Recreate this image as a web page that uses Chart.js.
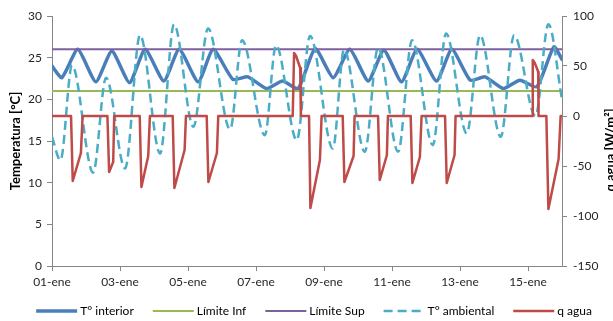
<!DOCTYPE html>
<html>
<head>
<meta charset="utf-8">
<script src="https://cdn.jsdelivr.net/npm/chart.js@4.4.1/dist/chart.umd.min.js"></script>
<style>
  html, body { margin: 0; padding: 0; background: #fff; overflow: hidden; }
  #wrap { width: 613px; height: 321px; position: relative; }
</style>
</head>
<body>
<div id="wrap"><canvas id="c" width="613" height="321"></canvas></div>
<script>
// Day axis: tick positions (days after 01-ene 00:00) and their labels
const dayTicks = [0, 2, 4, 6, 8, 10, 12, 14];
const dayLabels = ['01-ene', '03-ene', '05-ene', '07-ene', '09-ene', '11-ene', '13-ene', '15-ene'];

// Indoor temperature [°C]
const interiorTime = [0, 0.29, 0.76, 1.29, 1.76, 2.28, 2.74, 3.29, 3.74, 4.3, 4.74, 5.32, 5.76, 6.31, 6.78, 7.24,
  7.74, 8.27, 8.76, 9.3, 9.76, 10.28, 10.74, 11.31, 11.76, 12.3, 12.74, 13.27, 13.76, 14.26, 14.76, 15];
const interiorTemp = [24.0, 22.6, 26.0, 22.1, 25.8, 22.0, 26.0, 22.2, 26.0, 22.1, 26.0, 22.4, 22.7, 21.3, 22.2, 21.3,
  26.1, 22.6, 26.0, 22.2, 25.9, 22.1, 26.0, 22.2, 26.0, 22.3, 22.7, 21.3, 22.3, 21.5, 26.3, 24.8];

// Comfort band [°C]
const limitTime = [0, 15];
const limitInf = [21, 21];
const limitSup = [26, 26];

// Outdoor temperature [°C]
const ambientTime = [0, 0.25, 0.59, 1.21, 1.59, 2.15, 2.59, 3.18, 3.59, 4.16, 4.59, 5.24, 5.59, 6.26, 6.59, 7.2,
  7.59, 8.26, 8.59, 9.2, 9.59, 10.18, 10.59, 11.2, 11.59, 12.2, 12.59, 13.2, 13.59, 14.22, 14.6, 15];
const ambientTemp = [15.5, 12.7, 24.1, 11.2, 22.6, 11.7, 27.7, 13.5, 29.0, 16.7, 28.5, 16.4, 27.1, 15.7, 26.5, 15.1,
  27.6, 14.1, 26.0, 13.7, 26.2, 13.7, 27.1, 14.5, 27.9, 15.9, 27.7, 15.5, 27.7, 18.0, 29.0, 20.0];

// Heat flux through the water circuit [W/m²]
const waterTime = [0, 0.56, 0.61, 0.85, 0.9,
  1.63, 1.68, 1.80, 1.83,
  2.58, 2.63, 2.83, 2.88,
  3.55, 3.6, 3.9, 3.94,
  4.55, 4.6, 4.85, 4.89,
  7.08, 7.12, 7.18, 7.25, 7.3, 7.32,
  7.56, 7.6, 7.88, 7.93,
  8.55, 8.6, 8.87, 8.9,
  9.59, 9.64, 9.85, 9.88,
  10.55, 10.6, 10.82, 10.87,
  11.56, 11.61, 11.84, 11.87,
  14.12, 14.14, 14.2, 14.27, 14.3, 14.31,
  14.54, 14.6, 14.9, 14.96, 15];
const waterFlux = [0, 0, -65, -37, 0,
  0, -56, -46, 0,
  0, -71, -40, 0,
  0, -72, -34, 0,
  0, -66, -37, 0,
  0, 63, 60, 53, 48, 0,
  0, -92, -44, 0,
  0, -66, -40, 0,
  0, -64, -39, 0,
  0, -67, -41, 0,
  0, -67, -39, 0,
  0, 56, 53, 47, 44, 0,
  0, -93, -43, 0, 0];

const pts = (xs, ys) => xs.map((x, i) => ({ x, y: ys[i] }));

const AXIS = '#868686';
const FONT = 'Lato, "Open Sans", sans-serif';

// Secondary-axis title, written bottom-to-top like the primary one
const rightTitle = {
  id: 'rightTitle',
  afterDraw(chart) {
    const { ctx, chartArea } = chart;
    const s = chart.scales.y1;
    ctx.save();
    ctx.translate(s.right - 2, (chartArea.top + chartArea.bottom) / 2 + 9);
    ctx.rotate(-Math.PI / 2);
    ctx.font = 'bold 13px ' + FONT;
    ctx.fillStyle = '#000';
    ctx.textAlign = 'center';
    ctx.textBaseline = 'middle';
    ctx.fillText('q agua [W/m²]', 0, 0);
    ctx.restore();
  }
};

// Single-row legend under the axis labels
const bottomLegend = {
  id: 'bottomLegend',
  afterDraw(chart) {
    const ctx = chart.ctx;
    ctx.save();
    ctx.font = '12px ' + FONT;
    const sample = 41, gap = 3, spacing = 19;
    const items = chart.data.datasets.map(ds => ({ ds, w: sample + gap + ctx.measureText(ds.label).width }));
    const total = items.reduce((a, it) => a + it.w, 0) + spacing * (items.length - 1);
    const ca = chart.chartArea;
    let x = (ca.left + ca.right) / 2 + 7 - total / 2;
    const y = 311;
    items.forEach(it => {
      const ds = it.ds;
      ctx.beginPath();
      ctx.setLineDash(ds.borderDash || []);
      ctx.lineWidth = ds.borderWidth;
      ctx.strokeStyle = ds.borderColor;
      ctx.lineCap = 'butt';
      ctx.moveTo(x, y);
      ctx.lineTo(x + sample, y);
      ctx.stroke();
      ctx.setLineDash([]);
      ctx.fillStyle = '#000';
      ctx.textBaseline = 'middle';
      ctx.textAlign = 'left';
      ctx.fillText(ds.label, x + sample + gap, y);
      x += it.w + spacing;
    });
    ctx.restore();
  }
};

function build() {
  Chart.defaults.font.family = FONT;
  Chart.defaults.font.size = 12;
  Chart.defaults.color = '#262626';

  new Chart(document.getElementById('c'), {
    type: 'line',
    data: {
      datasets: [
        { label: 'T° interior', data: pts(interiorTime, interiorTemp), yAxisID: 'y',
          borderColor: '#4A7EBB', borderWidth: 3.5, pointRadius: 0, tension: 0.18,
          borderJoinStyle: 'round', borderCapStyle: 'round', order: 5 },
        { label: 'Límite Inf', data: pts(limitTime, limitInf), yAxisID: 'y',
          borderColor: '#98B954', borderWidth: 2, pointRadius: 0, order: 4 },
        { label: 'Límite Sup', data: pts(limitTime, limitSup), yAxisID: 'y',
          borderColor: '#7D60A0', borderWidth: 2, pointRadius: 0, order: 3 },
        { label: 'T° ambiental', data: pts(ambientTime, ambientTemp), yAxisID: 'y',
          borderColor: '#4BACC6', borderWidth: 2.5, borderDash: [9, 5], pointRadius: 0,
          cubicInterpolationMode: 'monotone', order: 2 },
        { label: 'q agua', data: pts(waterTime, waterFlux), yAxisID: 'y1',
          borderColor: '#BE4B48', borderWidth: 2.5, pointRadius: 0, tension: 0,
          borderJoinStyle: 'round', order: 1 }
      ]
    },
    options: {
      responsive: false,
      animation: false,
      devicePixelRatio: 1,
      events: [],
      layout: { padding: { top: 16, left: 0, right: 0, bottom: 0 } },
      plugins: { legend: { display: false }, tooltip: { enabled: false } },
      scales: {
        x: {
          type: 'linear', min: 0, max: 15,
          afterBuildTicks: s => { s.ticks = dayTicks.map(v => ({ value: v })); },
          afterFit: s => { s.height = 55; },
          ticks: { callback: v => dayLabels[dayTicks.indexOf(v)], padding: 4, maxRotation: 0, autoSkip: false },
          grid: { drawOnChartArea: false, drawTicks: true, tickLength: 5, color: AXIS },
          border: { color: AXIS }
        },
        y: {
          position: 'left', min: 0, max: 30,
          afterFit: s => { s.width = 52; },
          ticks: { stepSize: 5, padding: 5 },
          grid: { drawOnChartArea: false, drawTicks: true, tickLength: 5, color: AXIS },
          border: { color: AXIS },
          title: { display: true, text: 'Temperatura [°C]', color: '#000',
                   font: { weight: 'bold', size: 13 }, padding: { top: 8, bottom: 0 } }
        },
        y1: {
          position: 'right', min: -150, max: 100,
          afterFit: s => { s.width = 51; },
          ticks: { stepSize: 50, padding: 6 },
          grid: { drawOnChartArea: false, drawTicks: true, tickLength: 5, color: AXIS },
          border: { color: AXIS }
        }
      }
    },
    plugins: [rightTitle, bottomLegend]
  });
}

if (document.fonts && document.fonts.load) {
  Promise.all([document.fonts.load('12px Lato'), document.fonts.load('bold 13px Lato')]).then(build, build);
} else {
  build();
}
</script>
</body>
</html>
